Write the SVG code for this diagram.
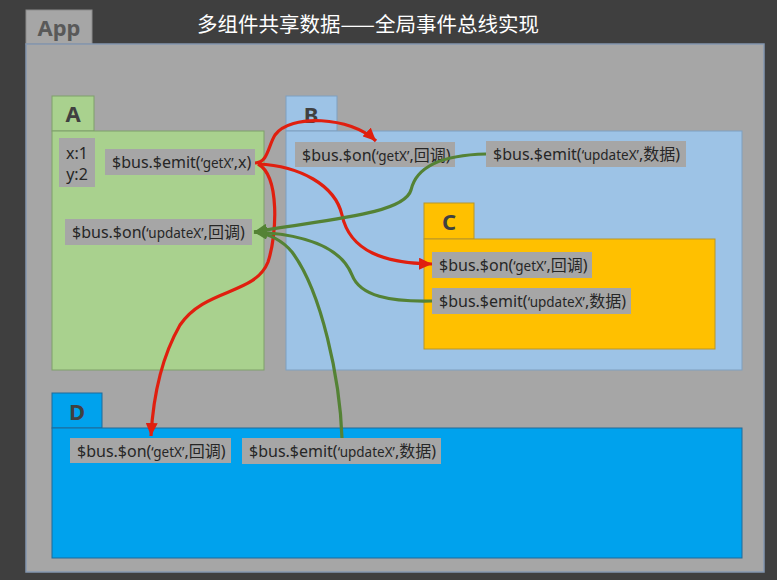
<svg xmlns="http://www.w3.org/2000/svg" width="777" height="580" viewBox="0 0 777 580">
<defs>
<style>
.lbl{fill:#a6a6a6}
.t{font-family:"Noto Sans","Liberation Sans","Noto Sans CJK SC",sans-serif;font-size:16px;fill:#262626}
.s{font-size:13.5px}
.tab{font-family:"Noto Sans","Liberation Sans",sans-serif;font-size:22px;font-weight:bold;fill:#404040}
.red{fill:none;stroke:#e01f0f;stroke-width:3.2}
.green{fill:none;stroke:#548235;stroke-width:3.2}
</style>
<marker id="ar" markerUnits="userSpaceOnUse" markerWidth="14" markerHeight="12" refX="13" refY="6" orient="auto"><path d="M0,0 L13,6 L0,12 Z" fill="#e01f0f"/></marker>
<marker id="ag" markerUnits="userSpaceOnUse" markerWidth="14" markerHeight="12" refX="13" refY="6" orient="auto"><path d="M0,0 L13,6 L0,12 Z" fill="#548235"/></marker>
</defs>
<rect x="0" y="0" width="777" height="580" fill="#3f3f3f"/>
<g id="app">
<rect x="26" y="10" width="66" height="34" fill="#a6a6a6" stroke="#8c8c8c" stroke-width="1"/>
<text x="59" y="36" text-anchor="middle" class="tab" style="fill:#595959">App</text>
<rect x="26" y="44" width="738" height="528" fill="#a6a6a6" stroke="#8497b0" stroke-width="1.5"/>
</g>
<text x="368" y="32" text-anchor="middle" font-family="'Noto Sans CJK SC','Noto Sans',sans-serif" font-size="20.5" fill="#ffffff">多组件共享数据——全局事件总线实现</text>
<g id="A">
<rect x="52" y="96" width="42" height="35" fill="#a9d18e" stroke="#7f9f6a" stroke-width="1"/>
<text x="73" y="122" text-anchor="middle" class="tab">A</text>
<rect x="52" y="131" width="212" height="239" fill="#a9d18e" stroke="#7f9f6a" stroke-width="1"/>
<rect x="59" y="138" width="36" height="49" class="lbl"/>
<text x="77" y="159" text-anchor="middle" class="t">x:1</text>
<text x="77" y="180" text-anchor="middle" class="t">y:2</text>
<rect x="105" y="149" width="150" height="26" class="lbl"/>
<text x="112" y="168" class="t">$bus.$emit(<tspan class="s">‘getX’</tspan>,x)</text>
<rect x="65" y="219" width="187" height="26" class="lbl"/>
<text x="72" y="238" class="t">$bus.$on(<tspan class="s">‘updateX’</tspan>,回调)</text>
</g>
<g id="B">
<rect x="286" y="96" width="51" height="35" fill="#9dc3e6" stroke="#7f9fbf" stroke-width="1"/>
<text x="311" y="123" text-anchor="middle" class="tab">B</text>
<rect x="286" y="131" width="456" height="239" fill="#9dc3e6" stroke="#7f9fbf" stroke-width="1"/>
<rect x="295" y="142" width="160" height="25" class="lbl"/>
<text x="302" y="161" class="t">$bus.$on(<tspan class="s">‘getX’</tspan>,回调)</text>
<rect x="486" y="141" width="200" height="26" class="lbl"/>
<text x="493" y="160" class="t">$bus.$emit(<tspan class="s">‘updateX’</tspan>,数据)</text>
</g>
<g id="C">
<rect x="424" y="203" width="50" height="36" fill="#ffc000" stroke="#b8962a" stroke-width="1"/>
<text x="449" y="230" text-anchor="middle" class="tab">C</text>
<rect x="424" y="239" width="291" height="110" fill="#ffc000" stroke="#b8962a" stroke-width="1"/>
<rect x="432" y="252" width="160" height="26" class="lbl"/>
<text x="439" y="271" class="t">$bus.$on(<tspan class="s">‘getX’</tspan>,回调)</text>
<rect x="432" y="288" width="199" height="26" class="lbl"/>
<text x="439" y="307" class="t">$bus.$emit(<tspan class="s">‘updateX’</tspan>,数据)</text>
</g>
<g id="D">
<rect x="52" y="393" width="50" height="35" fill="#00a2ed" stroke="#1f6a9a" stroke-width="1"/>
<text x="77" y="420" text-anchor="middle" class="tab">D</text>
<rect x="52" y="428" width="690" height="130" fill="#00a2ed" stroke="#1f6a9a" stroke-width="1"/>
<rect x="70" y="438" width="161" height="25" class="lbl"/>
<text x="77" y="457" class="t">$bus.$on(<tspan class="s">‘getX’</tspan>,回调)</text>
<rect x="242" y="438" width="199" height="26" class="lbl"/>
<text x="249" y="457" class="t">$bus.$emit(<tspan class="s">‘updateX’</tspan>,数据)</text>
</g>
<g id="connectors">
<path class="red" marker-end="url(#ar)" d="M255,163 C268,163 268,146 275,135 C290,114 350,116 376,141"/>
<path class="red" marker-end="url(#ar)" d="M258,164 C300,166 335,185 342,215 C350,252 385,263 432,264"/>
<path class="red" marker-end="url(#ar)" d="M258,164 C280,176 277,235 268,262 C255,295 205,288 180,325 C160,360 153,400 151,436"/>
<path class="green" marker-end="url(#ag)" d="M486,154 C440,155 416,168 411,190 C404,215 320,220 254,232"/>
<path class="green" marker-end="url(#ag)" d="M432,301 C390,302 360,296 352,275 C340,245 300,234 254,232"/>
<path class="green" marker-end="url(#ag)" d="M342,438 C340,380 322,292 292,252 C282,240 270,234 254,232"/>
</g>
</svg>
